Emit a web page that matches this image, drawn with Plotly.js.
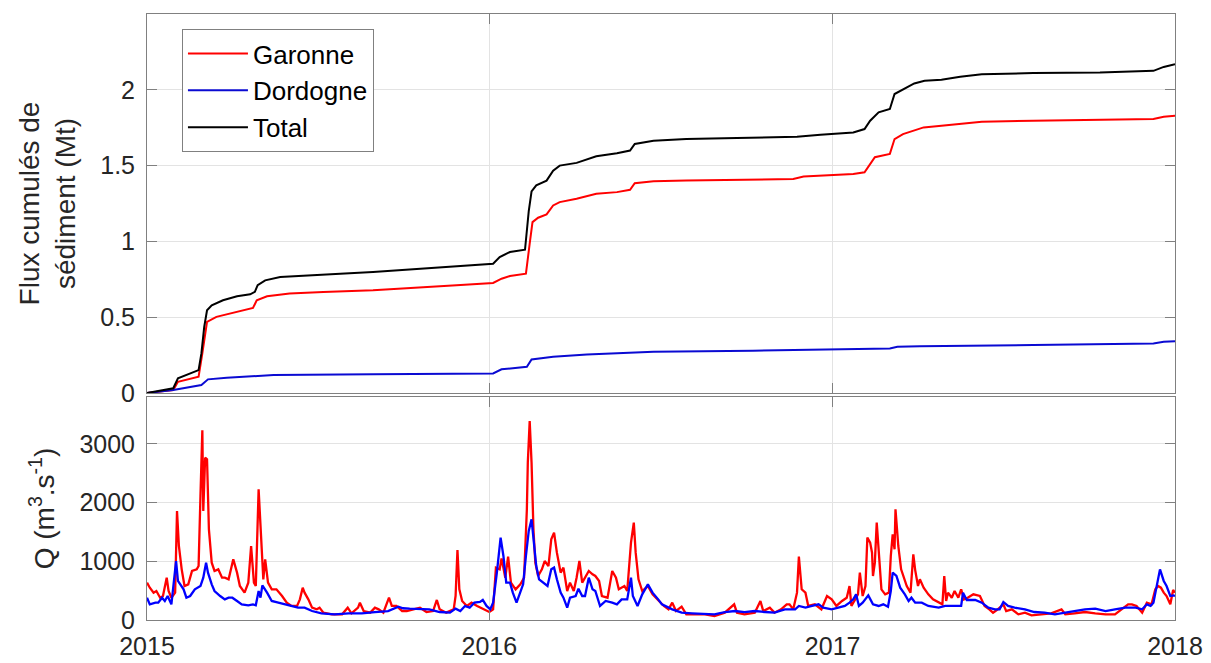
<!DOCTYPE html>
<html>
<head>
<meta charset="utf-8">
<script src="https://cdn.plot.ly/plotly-3.0.1.min.js"></script>
<style>html,body{margin:0;padding:0;background:#fff}#chart{width:1211px;height:663px}</style>
</head>
<body>
<div id="chart"></div>
<script>
// Day offsets from 2015-01-01 and values
const seriesNames = ['Garonne', 'Dordogne', 'Total'];
const yearTicks = ['2015', '2016', '2017', '2018'];

// Cumulative sediment flux (Mt)
const garCumDays = [0,28,33,55,59,64,74,96,113,117,128,152,188,241,295,330,369,378,387,404,408,411,417,426,433,440,458,479,501,515,520,540,575,689,700,753,765,771,776,792,797,806,817,828,847,867,890,945,1016,1073,1084,1096];
const garCumVals = [0,0.02,0.074,0.107,0.261,0.469,0.502,0.535,0.561,0.612,0.638,0.656,0.667,0.678,0.695,0.711,0.726,0.754,0.772,0.787,0.985,1.127,1.156,1.178,1.237,1.259,1.281,1.314,1.325,1.34,1.384,1.397,1.401,1.412,1.428,1.445,1.456,1.507,1.555,1.577,1.675,1.708,1.73,1.752,1.763,1.774,1.789,1.796,1.8,1.807,1.822,1.829];

const dorCumDays = [0,28,58,65,85,135,241,369,378,405,410,419,433,469,540,646,753,792,800,824,945,1073,1084,1096];
const dorCumVals = [0,0.02,0.053,0.09,0.101,0.118,0.123,0.129,0.156,0.173,0.221,0.228,0.239,0.254,0.272,0.279,0.287,0.294,0.305,0.309,0.316,0.327,0.338,0.342];

const totCumDays = [0,28,33,42,55,58,61,64,69,81,96,110,115,118,126,142,170,206,241,277,312,330,348,369,376,387,403,407,410,415,426,433,440,458,479,501,515,520,540,575,629,693,718,753,765,771,780,792,797,806,818,829,847,867,890,945,1016,1073,1084,1096];
const totCumVals = [0,0.031,0.097,0.118,0.151,0.261,0.436,0.546,0.579,0.612,0.638,0.651,0.667,0.711,0.743,0.765,0.776,0.787,0.798,0.814,0.827,0.836,0.842,0.853,0.897,0.93,0.945,1.2,1.33,1.37,1.401,1.467,1.5,1.518,1.561,1.581,1.599,1.643,1.664,1.675,1.682,1.691,1.704,1.719,1.741,1.796,1.851,1.873,1.972,2.004,2.042,2.059,2.066,2.086,2.103,2.11,2.114,2.125,2.151,2.169];

// Discharge Q (m3/s)
const garQDays = [0,3,7,10,14,17,21,23,26,30,32,34,37,40,44,48,53,55,57,59,60,62,64,66,69,72,76,80,83,87,92,96,99,104,108,111,114,116,119,122,124,126,129,133,138,144,149,154,160,163,166,168,172,176,181,184,188,197,208,214,218,225,227,231,238,243,247,252,258,261,266,272,277,284,291,298,305,309,312,319,327,329,331,333,336,341,346,352,359,365,369,372,376,378,382,385,388,393,398,402,405,406,408,410,412,414,417,421,424,428,431,434,437,441,444,448,451,455,458,461,464,467,471,475,478,482,485,491,496,500,503,509,512,516,519,521,524,528,534,539,545,551,556,560,564,570,575,584,595,605,616,626,629,637,648,654,657,664,669,676,682,685,689,693,695,698,702,705,712,719,725,730,735,741,746,749,751,755,758,760,763,766,768,771,773,774,776,778,780,783,787,791,793,795,797,798,801,804,810,814,817,819,822,824,828,833,838,844,848,850,852,854,858,861,865,868,871,875,881,888,893,898,902,907,913,916,922,929,936,943,954,964,975,979,989,1000,1011,1022,1032,1041,1046,1050,1055,1061,1066,1071,1075,1078,1081,1084,1087,1091,1094,1096];
const garQVals = [636,550,466,494,380,409,721,494,380,466,1857,1261,863,579,608,835,863,920,2113,3232,1857,2766,2738,1545,977,835,863,721,721,693,1034,807,579,466,636,1261,636,579,2227,1431,693,1034,636,523,523,409,295,239,239,352,551,466,352,210,182,210,125,97,97,210,114,210,295,153,125,210,182,125,380,239,239,153,153,182,210,136,153,341,182,125,182,409,1193,523,324,239,295,239,182,136,182,892,863,1050,721,1079,636,523,608,721,1886,2681,3391,2681,1545,977,750,863,1005,920,1375,1488,1147,807,892,494,636,494,721,1005,636,721,835,778,750,665,409,380,835,721,523,579,494,1318,1659,1147,693,494,579,437,340,239,182,295,153,227,97,97,97,68,125,267,125,97,125,324,153,210,125,182,267,267,182,466,1079,523,466,239,267,182,409,352,239,324,380,579,239,352,437,807,409,579,1403,1318,1147,750,977,1659,1147,523,437,466,1091,1460,1204,1886,1261,863,579,466,1119,850,579,693,551,437,352,295,267,750,324,466,380,494,380,523,352,380,437,409,239,182,125,182,267,153,182,97,125,80,97,114,182,97,114,136,114,97,97,210,267,267,239,125,295,267,523,579,551,466,409,267,511,466];

const dorQDays = [0,3,9,12,16,19,22,26,31,33,39,42,46,51,57,60,63,65,69,72,78,83,87,91,96,101,108,113,116,119,121,123,128,133,140,151,161,168,176,186,200,215,229,243,257,268,273,280,291,301,312,323,329,334,339,344,349,355,358,362,366,369,373,377,380,383,387,390,394,398,401,404,407,410,412,415,418,423,427,431,434,437,441,444,448,451,457,460,464,467,471,475,478,483,489,496,501,506,512,516,518,523,528,534,539,545,549,560,570,581,595,605,616,627,637,648,659,669,680,691,695,702,709,716,721,730,737,744,749,753,756,759,763,769,774,780,785,790,793,795,799,803,808,812,815,819,826,833,844,851,861,868,870,874,883,890,897,904,909,913,918,925,936,946,957,968,979,989,1000,1011,1022,1032,1043,1054,1061,1066,1070,1073,1077,1080,1084,1087,1091,1094,1096];
const dorQVals = [380,267,295,295,380,324,409,267,1005,665,523,380,409,523,579,721,977,807,608,494,409,352,380,380,324,267,250,267,250,494,380,591,466,324,295,250,210,210,153,114,97,114,114,136,153,227,200,193,182,182,136,125,193,153,239,210,295,307,341,239,182,295,807,1403,1091,636,636,466,295,494,608,1091,1517,1715,1375,920,693,636,579,863,892,693,466,380,210,380,409,534,409,409,721,523,494,239,324,295,267,352,352,721,409,239,437,608,466,352,267,182,125,114,97,97,136,153,136,153,136,125,182,182,239,210,239,267,210,182,210,239,295,352,437,239,295,420,267,239,267,227,494,807,750,551,437,324,380,295,295,239,210,239,239,239,466,341,341,295,210,182,182,307,239,210,182,136,125,97,125,153,182,193,153,182,210,210,182,267,239,295,608,863,665,579,409,420,409];

const t0 = Date.UTC(2015, 0, 1);
const toDate = d => new Date(t0 + d * 86400000).toISOString().slice(0, 10);
const yearVals = yearTicks.map(y => y + '-01-01');

const RED = '#ff0000', BLUE = '#0000ff', BLACK = '#000000';
const FONT = 'Liberation Sans, Arial, Helvetica, sans-serif';
const TXT = '#262626', AXC = '#808080', GRID = '#e3e3e3';

const traces = [
  {x: garCumDays.map(toDate), y: garCumVals, name: seriesNames[0], mode: 'lines', line: {color: RED, width: 2}, xaxis: 'x', yaxis: 'y'},
  {x: dorCumDays.map(toDate), y: dorCumVals, name: seriesNames[1], mode: 'lines', line: {color: '#0a0ad2', width: 2}, xaxis: 'x', yaxis: 'y'},
  {x: totCumDays.map(toDate), y: totCumVals, name: seriesNames[2], mode: 'lines', line: {color: BLACK, width: 2}, xaxis: 'x', yaxis: 'y'},
  {x: garQDays.map(toDate), y: garQVals, name: seriesNames[0], mode: 'lines', line: {color: RED, width: 2.3}, xaxis: 'x2', yaxis: 'y2', showlegend: false},
  {x: dorQDays.map(toDate), y: dorQVals, name: seriesNames[1], mode: 'lines', line: {color: BLUE, width: 2.3}, xaxis: 'x2', yaxis: 'y2', showlegend: false}
];

const xCommon = {
  type: 'date', range: [yearVals[0], yearVals[3]], tickmode: 'array', tickvals: yearVals, ticktext: yearTicks,
  ticks: 'inside', ticklen: 10, tickcolor: AXC, tickwidth: 1, mirror: 'ticks', showline: true, linecolor: AXC, linewidth: 1,
  showgrid: true, gridcolor: GRID, gridwidth: 1, zeroline: false, fixedrange: true,
  tickfont: {family: FONT, size: 25, color: TXT}
};

const layout = {
  width: 1211, height: 663,
  margin: {l: 147, r: 36, t: 14, b: 43},
  paper_bgcolor: '#ffffff', plot_bgcolor: '#ffffff',
  font: {family: FONT, color: TXT},
  showlegend: true,
  legend: {x: 0.034, y: 0.975, xanchor: 'left', yanchor: 'top', bgcolor: '#ffffff', bordercolor: AXC, borderwidth: 1,
           font: {family: FONT, size: 26, color: '#000000'}, itemwidth: 60, tracegroupgap: 0},
  xaxis: Object.assign({}, xCommon, {anchor: 'y', domain: [0, 1], showticklabels: false}),
  yaxis: {
    anchor: 'x', domain: [0.3746, 1], range: [0, 2.5], tickmode: 'array', tickvals: [0, 0.5, 1, 1.5, 2], ticktext: ['0', '0.5', '1', '1.5', '2'],
    ticks: 'inside', ticklen: 10, tickcolor: AXC, mirror: 'ticks', showline: true, linecolor: AXC, linewidth: 1,
    showgrid: true, gridcolor: GRID, zeroline: false, fixedrange: true, ticklabelstandoff: 6,
    tickfont: {family: FONT, size: 25, color: TXT},
    title: {text: 'Flux cumulés de<br>sédiment (Mt)', font: {family: FONT, size: 28, color: TXT}, standoff: 16}
  },
  xaxis2: Object.assign({}, xCommon, {anchor: 'y2', domain: [0, 1], showticklabels: true, ticklabelstandoff: 4}),
  yaxis2: {
    anchor: 'x2', domain: [0, 0.368], range: [0, 3800], tickmode: 'array', tickvals: [0, 1000, 2000, 3000], ticktext: ['0', '1000', '2000', '3000'],
    ticks: 'inside', ticklen: 10, tickcolor: AXC, mirror: 'ticks', showline: true, linecolor: AXC, linewidth: 1,
    showgrid: true, gridcolor: GRID, zeroline: false, fixedrange: true, ticklabelstandoff: 6,
    tickfont: {family: FONT, size: 25, color: TXT},
    title: {text: 'Q (m<sup>3</sup>.s<sup>-1</sup>)', font: {family: FONT, size: 28, color: TXT}, standoff: 16}
  }
};

Plotly.newPlot('chart', traces, layout, {staticPlot: true, displayModeBar: false});
</script>
</body>
</html>
